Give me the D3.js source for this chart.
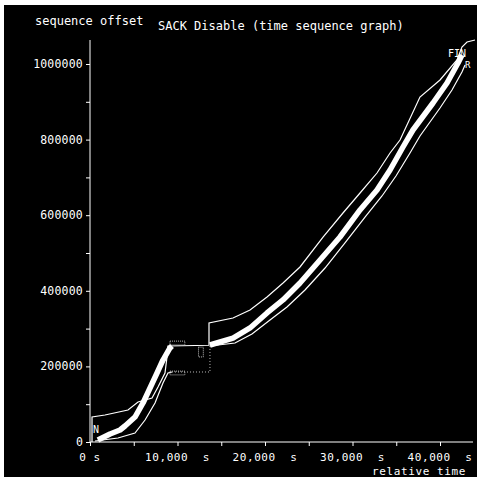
<!DOCTYPE html>
<html><head><meta charset="utf-8">
<script src="https://cdn.jsdelivr.net/npm/d3@7"></script>
<style>body{margin:0;background:#fff}svg{display:block}text{font-family:"DejaVu Sans Mono",monospace;fill:#fff}</style>
</head><body><svg id="c" width="480" height="480"></svg>
<script>
// data (time in s, sequence offset in bytes)
const xTicks = [0, 10000, 20000, 30000, 40000];
const xTickLabels = ["0 s", "10,000  s", "20,000  s", "30,000  s", "40,000  s"];
const yTicks = [0, 200000, 400000, 600000, 800000, 1000000];
const yTickLabels = ["0", "200000", "400000", "600000", "800000", "1000000"];

const bandTime = [900, 2290, 3430, 4000, 5140, 6060, 6860, 7660, 8340, 9140, 9370];
const bandSeq = [5300, 21200, 31700, 42300, 66100, 103200, 142900, 182500, 216900, 248700, 254000];
const band2Time = [13710, 16340, 18290, 20230, 22060, 24000, 26290, 28570, 30860, 32800, 34290, 35770, 36910, 39200, 40800, 42060, 42510];
const band2Seq = [256600, 275100, 301600, 341300, 375700, 420600, 481500, 542300, 613800, 666700, 719600, 780400, 825400, 896800, 949700, 1002600, 1023800];

const winTime = [230, 230, 1710, 4340, 5490, 7090, 7770, 8570, 8800, 8910, 13600, 13600, 16340, 18290, 20230, 22060, 24000, 26630, 28910, 30860, 32800, 34290, 35430, 37710, 40000, 41940, 42510, 43090, 44000];
const winSeq = [0, 66100, 71400, 84700, 105800, 116400, 145500, 182500, 224900, 254000, 256000, 314800, 328000, 349200, 383600, 420600, 463000, 542300, 605800, 658700, 711600, 764600, 798900, 912700, 957700, 1010600, 1045000, 1058200, 1063500];

const ackTime = [570, 3200, 5140, 6290, 7430, 8340, 8910, 9370];
const ackSeq = [2600, 10600, 23800, 58200, 103200, 156100, 182500, 185200];
const ackGapTime = [9370, 13710, 13710];
const ackGapSeq = [185200, 185200, 254000];
const ack2Time = [13710, 16570, 18510, 20570, 22510, 24570, 26860, 29140, 31430, 33370, 34970, 36570, 37710, 40000, 41370, 42510, 42860];
const ack2Seq = [254000, 261900, 285700, 322800, 357100, 402100, 460300, 526500, 595200, 650800, 703700, 764600, 809500, 883600, 931200, 978800, 997400];

const markTime = [9140, 9140, 12400];
const markSeq = [261900, 182500, 238000];
const markW = [1700, 1700, 550];
const markH = [10000, 10000, 26000];

const svg = d3.select("#c");
svg.append("rect").attr("x", 4).attr("y", 5).attr("width", 473).attr("height", 472).attr("fill", "#000");

const x = d3.scaleLinear().domain([0, 40000]).range([90, 440]);
const y = d3.scaleLinear().domain([0, 1000000]).range([442, 64]);
const xMax = x.invert(473), yMax = y.invert(40);

const g = svg.append("g");
// axes
const yAxis = d3.axisLeft(y).tickValues(d3.range(0, yMax, 100000)).tickSize(4).tickFormat("");
g.append("g").attr("transform", "translate(90,0)").call(yAxis)
  .call(s => s.select(".domain").remove())
  .call(s => s.selectAll("line").attr("stroke", "#fff"));
g.append("line").attr("x1", 90).attr("x2", 90).attr("y1", y(yMax)).attr("y2", y(0)).attr("stroke", "#fff");
const xAxis = d3.axisBottom(x).tickValues(d3.range(0, xMax, 5000)).tickSize(4).tickFormat("");
g.append("g").attr("transform", "translate(0,442)").call(xAxis)
  .call(s => s.select(".domain").remove())
  .call(s => s.selectAll("line").attr("stroke", "#fff"));
g.append("line").attr("x1", x(0)).attr("x2", x(xMax)).attr("y1", 442).attr("y2", 442).attr("stroke", "#fff");

g.selectAll(".yl").data(yTicks).join("text").attr("class", "yl")
  .attr("x", 83).attr("y", d => y(d) + 4).attr("text-anchor", "end")
  .attr("font-size", 11.5).attr("letter-spacing", 0.2).text((d, i) => yTickLabels[i]);
g.selectAll(".xl").data(xTicks).join("text").attr("class", "xl")
  .attr("x", d => x(d)).attr("y", 461).attr("text-anchor", "middle")
  .attr("font-size", 11).attr("letter-spacing", 0.6).style("white-space", "pre").attr("xml:space", "preserve")
  .text((d, i) => xTickLabels[i]);

svg.append("text").attr("x", 35).attr("y", 25).attr("font-size", 12).text("sequence offset");
svg.append("text").attr("x", 158).attr("y", 30).attr("font-size", 12).text("SACK Disable (time sequence graph)");
svg.append("text").attr("x", 466).attr("y", 475).attr("font-size", 11).attr("letter-spacing", 0.6).attr("text-anchor", "end").text("relative time");

const line = (tArr, sArr) => d3.line().x(i => x(tArr[i])).y(i => y(sArr[i]))(d3.range(tArr.length));

// window line
g.append("path").attr("d", line(winTime, winSeq)).attr("fill", "none").attr("stroke", "#fff").attr("stroke-width", 1.2);
// ack line
g.append("path").attr("d", line(ackTime, ackSeq)).attr("fill", "none").attr("stroke", "#fff").attr("stroke-width", 1.2);
g.append("path").attr("d", line(ackGapTime, ackGapSeq)).attr("fill", "none").attr("stroke", "#bbb").attr("stroke-width", 1).attr("stroke-dasharray", "1,2");
g.append("path").attr("d", line(ack2Time, ack2Seq)).attr("fill", "none").attr("stroke", "#fff").attr("stroke-width", 1.2);
// markers
g.selectAll(".mk").data(markTime).join("rect").attr("class", "mk")
  .attr("x", d => x(d)).attr("y", (d, i) => y(markSeq[i] + markH[i] / 2))
  .attr("width", (d, i) => x(markW[i]) - x(0)).attr("height", (d, i) => y(0) - y(markH[i]))
  .attr("fill", "none").attr("stroke", "#bbb").attr("stroke-dasharray", "1,1");
// data segments band
[[bandTime, bandSeq], [band2Time, band2Seq]].forEach(([t, s]) => {
  g.append("path").attr("d", line(t, s)).attr("fill", "none").attr("stroke", "#fff").attr("stroke-width", 5.5).attr("stroke-linejoin", "round");
});
// labels
svg.append("text").attr("x", 93).attr("y", 433).attr("font-size", 10).text("N");
svg.append("text").attr("x", 448).attr("y", 57).attr("font-size", 10).text("FIN");
svg.append("text").attr("x", 465).attr("y", 68).attr("font-size", 9).text("R");
</script></body></html>
